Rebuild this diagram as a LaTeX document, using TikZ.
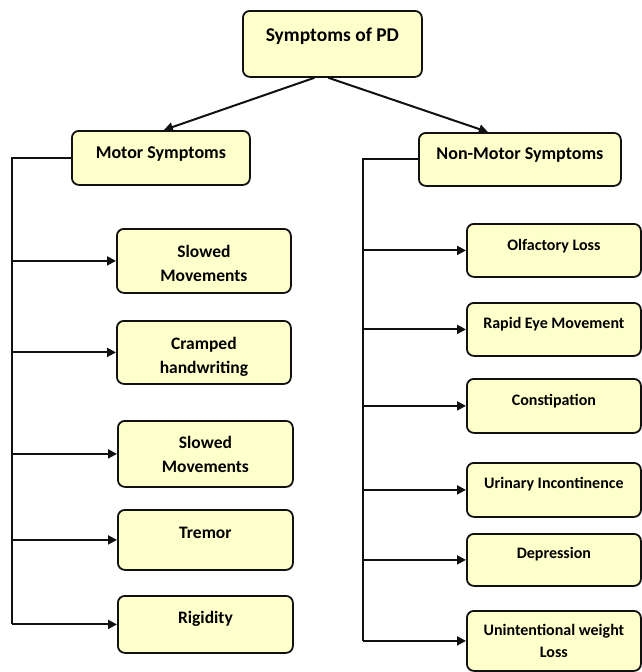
\documentclass[tikz,border=0pt]{standalone}
\usepackage{fontspec}
\setmainfont{Carlito}
\usepackage{tikz}
\usetikzlibrary{arrows.meta,calc}
\definecolor{boxc}{HTML}{FFFFCC}
\definecolor{linec}{HTML}{111111}
\tikzset{
  ar/.style={-{Triangle[length=9pt,width=9pt]},line width=2pt,linec},
  ln/.style={line width=2pt,linec},
  bx/.style={draw=linec,line width=1.8pt,rounded corners=7pt,fill=boxc,anchor=north west,
    inner xsep=0pt,inner ysep=0pt,align=center,font=\bfseries\fontsize{17.5}{24}\selectfont},
  sm/.style={font=\bfseries\fontsize{16}{22}\selectfont},
  sz/.style n args={3}{minimum width=#1pt,text height=#2pt,text depth=#3pt}
}
\begin{document}
\begin{tikzpicture}[x=1pt,y=-1pt]
\useasboundingbox (0,0) rectangle (641,672);
% root
\node[bx,sz={179}{31}{35},font=\bfseries\fontsize{19.5}{24}\selectfont] (pd) at (242,10) {Symptoms of PD};
% two groups
\node[bx,sz={178}{28}{26},font=\bfseries\fontsize{18}{24}\selectfont] (motor) at (71,130) {Motor Symptoms};
\node[bx,sz={202}{27}{26},font=\bfseries\fontsize{18}{24}\selectfont] (nonmotor) at (418,132) {Non-Motor Symptoms};
\draw[ar] ([xshift=-18pt]pd.south) -- ([xshift=3pt]motor.north);
\draw[ar] ([xshift=-4pt]pd.south) -- ([xshift=-32pt]nonmotor.north);
% motor symptoms
\node[bx,sz={174}{53}{11}] (slowa) at (116,228) {Slowed\\Movements};
\node[bx,sz={174}{53}{10}] (cramp) at (116,320) {Cramped\\handwriting};
\node[bx,sz={175}{52}{14}] (slowb) at (117,420) {Slowed\\Movements};
\node[bx,sz={175}{29}{31}] (trem) at (117,509) {Tremor};
\node[bx,sz={175}{28}{29}] (rig) at (117,595) {Rigidity};
% non-motor symptoms
\node[bx,sm,sz={174}{27}{26}] (olf) at (466,223) {Olfactory Loss};
\node[bx,sm,sz={174}{26}{27}] (rem) at (466,302) {Rapid Eye Movement};
\node[bx,sm,sz={174}{27}{27}] (const) at (466,378) {Constipation};
\node[bx,sm,sz={174}{26}{28}] (urin) at (466,462) {Urinary Incontinence};
\node[bx,sm,sz={174}{25}{27}] (depr) at (466,533) {Depression};
\node[bx,sm,sz={174}{47}{13}] (wloss) at (466,610) {Unintentional weight\\Loss};
% trunks
\coordinate (lt) at (12,0);
\coordinate (rt) at (363,0);
\draw[ln] (motor.west) -- (lt |- motor.west) -- (lt |- rig.west);
\draw[ln] (nonmotor.west) -- (rt |- nonmotor.west) -- (rt |- wloss.west);
\foreach \n in {slowa,cramp,slowb,trem,rig}
  \draw[ar] (lt |- \n.west) -- (\n.west);
\foreach \n in {olf,rem,const,urin,depr,wloss}
  \draw[ar] (rt |- \n.west) -- (\n.west);
\end{tikzpicture}
\end{document}
